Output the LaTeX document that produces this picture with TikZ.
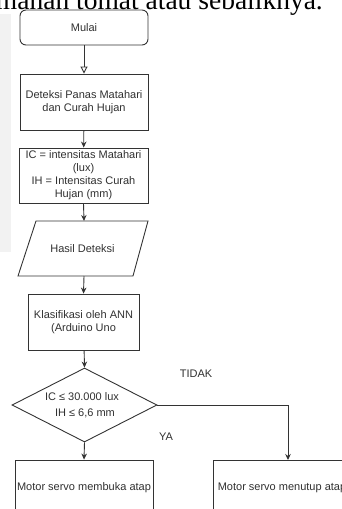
\documentclass[tikz,border=0pt]{standalone}
\usepackage{fontspec}
\setmainfont{Liberation Sans}
\newfontfamily\docserif{Liberation Serif}
\usetikzlibrary{arrows.meta,shapes.geometric}
\definecolor{linec}{HTML}{333333}
\definecolor{textc}{HTML}{303030}
\begin{document}
\begin{tikzpicture}[x=1pt,y=-1pt,
  every node/.style={text=textc, font=\fontsize{11}{13}\selectfont},
  stepbox/.style={draw=linec, line width=0.9pt, rectangle, inner sep=0pt, align=center},
  conn/.style={draw=linec, line width=0.9pt, -{Stealth[length=6pt,width=5.5pt]}},
  openconn/.style={draw=linec, line width=0.9pt, -{Triangle[open,length=7pt,width=7pt]}},
  lbl/.style={font=\fontsize{11}{13}\selectfont}
]
\useasboundingbox (0,0) rectangle (342,509);
\clip (0,0) rectangle (342,509);
% faint scan band
\fill[black!5] (0,14) rectangle (11,252);
\node[anchor=base east, inner sep=0pt, text=black, font=\docserif\fontsize{27.5}{30}\selectfont] (doc) at (323,9) {manan tomat atau sebaliknya.};

\node[stepbox, rounded corners=6pt, minimum width=128, minimum height=35] (mulai) at (84,27.5) {Mulai};
\node[stepbox, minimum width=128, minimum height=56] (det) at (84,102) {Deteksi Panas Matahari\\dan Curah Hujan};
\node[stepbox, minimum width=129, minimum height=55] (ic) at (83.5,175.5) {IC = intensitas Matahari\\(lux)\\IH = Intensitas Curah\\Hujan (mm)};
\draw[linec, line width=0.9pt] (36,221) -- (148,221) -- (133,276) -- (18,276) -- cycle;
\node[inner sep=0pt] (hasil) at (82.5,249) {Hasil Deteksi};
\coordinate (hasilT) at (84,221);
\coordinate (hasilB) at (84,276);
\node[stepbox, minimum width=111, minimum height=56] (klas) at (83.5,322) {Klasifikasi oleh ANN\\(Arduino Uno};
\node[diamond, draw=linec, line width=0.9pt, inner sep=0pt, shape aspect=2, minimum width=145, minimum height=74] (dec) at (84.5,405) {};
\node[inner sep=0pt, align=center] (dectext) at (82,405) {IC ≤ 30.000 lux\\[3pt]\hspace*{6pt}IH ≤ 6,6 mm};
\node[stepbox, minimum width=138, minimum height=56] (mb) at (84,488) {Motor servo membuka atap};
\node[stepbox, minimum width=138, minimum height=56] (mt) at (282,488) {Motor servo menutup atap};
\coordinate (mtT) at (288,460);
\node[lbl] (tidak) at (196,374) {TIDAK};
\node[lbl] (ya) at (166,437) {YA};

\draw[openconn] (mulai) -- (det);
\draw[conn] (det) -- (ic);
\draw[conn] (ic.south) -- (hasilT);
\draw[conn] (hasilB) -- (klas.north);
\draw[conn] (klas) -- (dec.north);
\draw[conn] (dec.south) -- (mb.north);
\draw[conn] (dec.east) -| (mtT);
\end{tikzpicture}
\end{document}
